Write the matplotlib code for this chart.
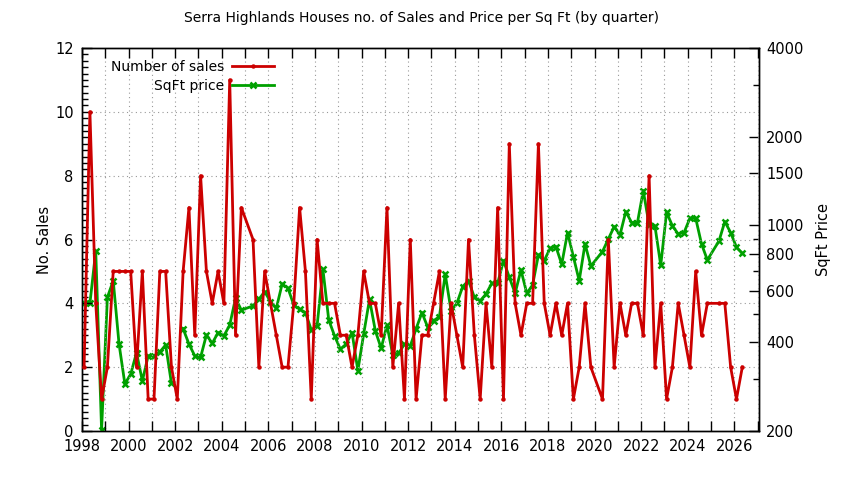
import numpy as np
import matplotlib
matplotlib.use("Agg")
import matplotlib.pyplot as plt
from matplotlib.ticker import FixedLocator, NullFormatter

nan = np.nan

# quarterly data starting 1998 Q1
start_year = 1998.09
sales = [
    2, 10, 4, 1, 2, 5, 5, 5, 5, 2, 5, 1, 1, 5, 5, 2, 1, 5, 7, 3,
    8, 5, 4, 5, 4, 11, 3, 7, nan, 6, 2, 5, 4, 3, 2, 2, 4, 7, 5, 1,
    6, 4, 4, 4, 3, 3, 2, 3, 5, 4, 4, 3, 7, 2, 4, 1, 6, 1, 3, 3,
    4, 5, 1, 4, 3, 2, 6, 3, 1, 4, 2, 7, 1, 9, 4, 3, 4, 4, 9, 4,
    3, 4, 3, 4, 1, 2, 4, 2, nan, 1, 6, 2, 4, 3, 4, 4, 3, 8, 2, 4,
    1, 2, 4, 3, 2, 5, 3, 4, nan, 4, 4, 2, 1, 2,
]
sqft_price = [
    543, 543, 818, 202, 569, 648, 395, 289, 312, 369, 296, 360, 360, 371, 392, 290, nan, 445, 395, 360,
    356, 424, 397, 432, 421, 458, 565, 515, nan, 532, 560, 595, 550, 522, 632, 611, 536, 518, 505, 441,
    455, 709, 477, 421, 379, 395, 432, 321, 427, 560, 438, 382, 458, 362, 367, 395, 389, 445, 505, 450,
    474, 489, 682, 513, 543, 619, 648, 569, 554, 584, 635, 635, 758, 666, 587, 705, 587, 627, 793, 758,
    835, 846, 737, 944, 782, 648, 864, 727, nan, 814, 898, 989, 927, 1112, 1021, 1021, 1311, 1003, 995, 731,
    1107, 995, 934, 944, 1056, 1056, 864, 762, nan, 884, 1029, 944, 842, 803,
]

y2_major = [200, 400, 600, 800, 1000, 1500, 2000, 4000]
y2_minor = [300, 500, 700, 900, 3000]

title = "Serra Highlands Houses no. of Sales and Price per Sq Ft (by quarter)"

sales = np.array(sales, dtype=float)
price = np.array(sqft_price, dtype=float)
x = start_year + 0.25 * np.arange(len(sales))
keep = ~(np.isnan(sales) & np.isnan(price))
xs, s, p = x[keep], sales[keep], price[keep]

plt.rcParams['font.family'] = ['DejaVu Sans']
plt.rcParams['font.size'] = 10

fig = plt.figure(figsize=(8.44, 4.8), dpi=100)
ax = fig.add_axes([82/844, (480-431)/480, (759.3-82)/844, (431-48)/480])
ax2 = ax.twinx()

red = '#cc0000'
green = '#00a000'

l1, = ax.plot(xs, s, color=red, lw=2, marker='o', ms=3.2, mew=0, label='Number of sales', zorder=3)
l2, = ax2.plot(xs, p, color=green, lw=2, marker='x', ms=4, mew=1.8, label='SqFt price', zorder=3)

ax.set_xlim(1998, 2027.07)
ax.set_ylim(0, 12)
ax2.set_ylim(200, 4000)
ax2.set_yscale('log')

# x ticks: every year, labels every 2 years
ax.xaxis.set_major_locator(FixedLocator(list(range(1998, 2028))))
ax.set_xticklabels([str(v) if v % 2 == 0 else '' for v in range(1998, 2028)])
ax.tick_params(axis='x', which='major', direction='in', length=7, top=True, width=1)

ax.set_yticks(range(0, 13, 2))
ax.yaxis.set_minor_locator(FixedLocator([v / 5 for v in range(0, 61) if v % 10 != 0]))
ax.tick_params(axis='y', which='major', direction='in', length=7, right=False, width=1)
ax.tick_params(axis='y', which='minor', direction='in', length=4, right=False, width=1)

ax2.yaxis.set_major_locator(FixedLocator(y2_major))
ax2.set_yticklabels([str(v) for v in y2_major])
ax2.yaxis.set_minor_locator(FixedLocator(y2_minor))
ax2.yaxis.set_minor_formatter(NullFormatter())
ax2.tick_params(axis='y', which='major', direction='in', length=7, width=1)
ax2.tick_params(axis='y', which='minor', direction='in', length=4, width=1)

ax.tick_params(axis='both', labelsize=10.5, pad=6)
ax2.tick_params(axis='y', labelsize=10.5, pad=5)

# grid
ax.grid(True, which='major', axis='x', color='#999999', linestyle=(0, (1, 3)), lw=0.8)
for yv in [2, 4, 6, 8, 10]:
    ax.axhline(yv, color='#999999', linestyle=(0, (1, 3)), lw=0.8, zorder=0)

for a in (ax, ax2):
    for sp in a.spines.values():
        sp.set_linewidth(1)
        sp.set_color('black')

ax.set_zorder(ax2.get_zorder() + 1)
ax.patch.set_visible(False)

ax.set_ylabel('No. Sales', fontsize=10.5, labelpad=2)
ax2.set_ylabel('SqFt Price', fontsize=10.5, labelpad=9)
fig.suptitle(title, y=0.978, fontsize=10)

leg = ax.legend([l1, l2], ['Number of sales', 'SqFt price'], loc='upper right',
                bbox_to_anchor=(281/844, (480-53)/480), bbox_transform=fig.transFigure,
                frameon=False, markerfirst=False, handlelength=3.0, handletextpad=0.6,
                borderpad=0, labelspacing=0.35, fontsize=10)

fig.savefig('out.png', dpi=100)
